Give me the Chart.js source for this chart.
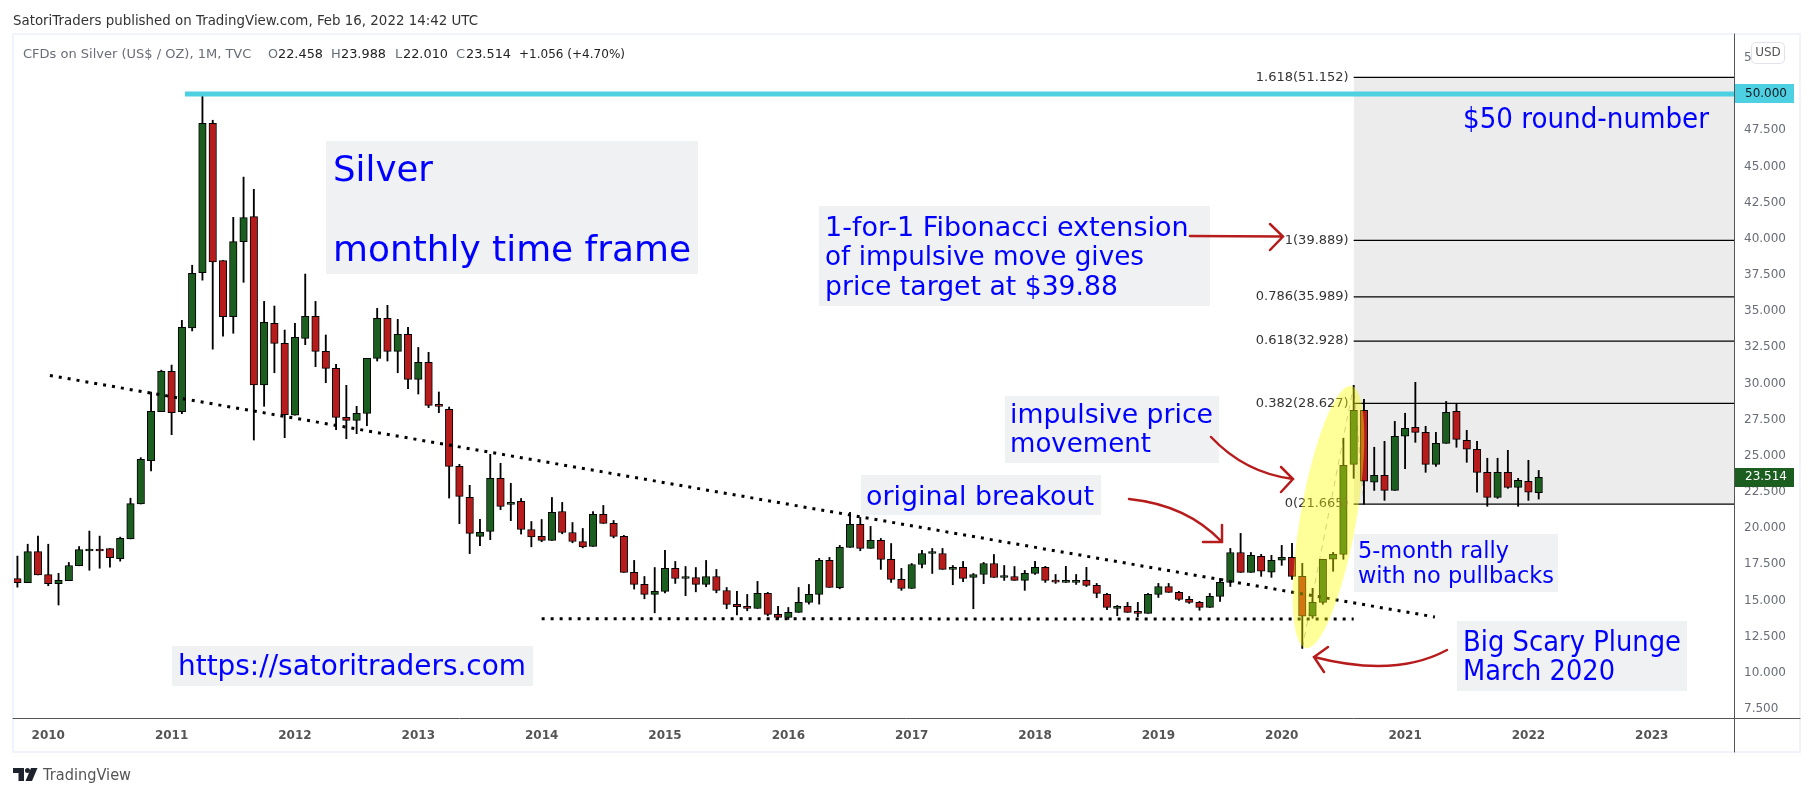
<!DOCTYPE html>
<html>
<head>
    <title>Silver monthly</title>
    <script src="https://cdn.jsdelivr.net/npm/chart.js"></script>
    <style>
      html, body { margin: 0; padding: 0; background: #fff; }
      canvas { display: block; }
    </style>
</head>
<body>
<canvas id="silverChart" width="1813" height="797"></canvas>

<script>
    // monthly candles, Oct 2009 (index 0) to Feb 2022 (index 148)
    const opens = [16.51,16.23,18.38,16.79,16.16,16.37,17.40,18.42,18.52,18.59,
      17.89,19.26,21.67,24.66,28.05,30.83,28.05,33.84,37.65,47.98,
      38.49,34.62,39.80,41.53,29.90,34.15,32.77,27.80,33.12,34.64,
      32.22,31.04,27.66,27.45,27.93,31.73,34.50,32.22,33.39,30.28,
      31.46,28.49,28.21,24.27,22.13,19.43,19.78,23.44,21.64,21.85,
      19.91,19.43,19.15,21.15,19.70,19.08,18.74,20.95,20.33,19.43,
      16.94,16.11,15.42,15.63,17.22,16.52,16.59,16.11,16.66,15.69,
      14.73,14.59,14.45,15.49,14.04,13.83,14.18,14.87,15.42,17.77,
      15.88,18.67,20.26,18.60,19.15,17.84,16.46,15.83,17.49,18.25,
      18.25,17.15,17.29,16.59,16.80,17.56,16.59,16.66,16.39,16.87,
      17.29,16.32,16.25,16.25,16.39,16.04,15.42,14.45,14.59,14.18,
      14.11,15.42,15.97,15.56,15.08,14.87,14.52,15.28,16.25,18.32,
      16.94,18.05,16.95,17.78,17.98,16.67,13.91,14.87,17.85,18.19,
      24.41,28.14,23.17,23.65,22.61,26.35,26.97,26.62,24.41,25.86,
      28.07,26.07,25.45,23.86,22.13,23.86,22.82,23.24,22.458];
    const closes = [16.23,18.38,16.76,16.16,16.39,17.42,18.52,18.52,18.42,17.96,
      19.29,21.69,24.76,28.07,30.83,27.98,33.87,37.61,47.98,38.40,
      34.62,39.80,41.46,29.90,34.22,32.77,27.84,33.19,34.64,32.22,
      31.04,27.66,27.45,27.93,31.73,34.50,32.22,33.39,30.28,31.46,
      28.49,28.42,24.27,22.20,19.64,19.71,23.44,21.51,21.78,19.91,
      19.40,19.15,21.09,19.70,19.08,18.71,20.95,20.33,19.43,16.94,
      16.11,15.42,15.63,17.22,16.52,16.59,16.11,16.66,15.69,14.73,
      14.57,14.45,15.49,14.04,13.83,14.18,14.87,15.42,17.77,15.90,
      18.67,20.26,18.60,19.15,17.84,16.46,15.83,17.49,18.25,18.30,
      17.15,17.29,16.53,16.80,17.56,16.59,16.66,16.39,16.87,17.29,
      16.39,16.27,16.32,16.39,16.04,15.49,14.52,14.59,14.18,14.11,
      15.42,15.97,15.56,15.08,14.87,14.52,15.28,16.25,18.32,16.94,
      18.12,17.02,17.78,17.98,16.67,13.91,14.87,17.85,18.19,24.34,
      28.14,23.24,23.65,22.61,26.35,26.90,26.62,24.41,25.86,28.00,
      26.14,25.45,23.86,22.13,23.86,22.82,23.30,22.48,23.514];
    const highs = [18.07,18.89,19.45,18.89,16.88,17.63,18.73,19.80,19.45,18.59,
      19.38,22.07,24.87,29.41,30.92,31.27,34.36,38.17,49.85,48.19,
      38.49,41.48,44.26,43.42,35.67,35.35,33.69,34.15,37.56,35.67,
      33.35,31.32,29.87,28.42,31.73,35.19,35.40,34.43,33.88,32.49,
      32.15,29.41,28.37,24.41,22.96,20.61,25.10,24.48,23.10,22.05,
      20.46,20.60,22.12,21.78,20.39,19.98,21.15,21.57,20.53,19.50,
      17.77,16.66,17.28,18.46,17.70,17.35,17.28,17.77,17.15,15.90,
      15.63,15.42,16.32,15.56,14.59,14.52,15.90,16.11,17.91,17.98,
      18.81,21.09,20.74,20.12,19.29,18.94,17.22,17.56,18.46,18.60,
      18.60,17.42,17.70,16.87,17.63,18.18,17.42,17.35,17.08,17.70,
      17.36,16.80,17.36,16.80,17.29,16.18,15.49,14.66,14.87,14.87,
      15.49,16.18,16.18,15.63,15.28,14.94,15.49,16.53,18.60,19.64,
      18.32,18.19,18.12,18.81,18.95,17.57,15.84,17.85,18.33,26.21,
      29.87,28.90,25.59,26.00,27.38,27.94,30.08,27.04,26.62,28.76,
      28.63,26.76,26.00,24.83,24.83,25.38,23.44,24.69,23.988];
    const lows = [15.92,16.23,16.76,16.02,14.69,16.37,17.40,17.09,17.23,17.30,
      17.72,19.26,21.67,23.96,28.05,26.46,27.91,33.63,37.14,32.37,
      33.26,33.47,36.99,26.09,28.42,30.74,26.25,27.80,32.68,31.16,
      30.05,26.80,26.18,26.53,27.08,31.55,31.55,30.74,29.64,29.27,
      28.33,27.98,22.08,20.31,18.24,18.79,19.20,21.28,20.52,19.59,
      18.71,19.06,19.15,19.61,18.99,18.64,18.74,20.33,19.33,16.94,
      15.79,15.12,14.15,15.53,16.18,15.33,15.60,15.95,15.53,14.43,
      14.01,14.29,14.45,13.94,13.69,13.69,14.18,14.75,14.75,15.90,
      15.81,18.67,18.44,18.60,17.15,16.25,15.70,15.83,17.26,16.87,
      17.15,16.09,16.30,14.43,16.16,16.59,16.39,16.39,15.70,16.80,
      16.25,16.18,16.25,16.11,15.97,15.19,14.36,13.95,14.18,13.88,
      14.11,15.21,15.56,15.01,14.80,14.32,14.52,14.94,15.97,16.94,
      16.94,16.67,16.60,17.43,16.46,11.69,13.77,14.74,17.02,17.85,
      23.44,21.65,22.61,21.92,22.61,24.11,25.93,23.86,24.27,25.86,
      25.59,24.55,22.48,21.51,22.06,22.75,21.51,21.92,22.010];

    const years = [2010,2011,2012,2013,2014,2015,2016,2017,2018,2019,2020,2021,2022,2023];
    const yearIndex = [3,15,27,39,51,63,75,87,99,111,123,135,147,159];
    const priceTicks = [7.5,10,12.5,15,17.5,20,22.5,25,27.5,30,32.5,35,37.5,40,42.5,45,47.5,50,52.5];

    const fibRatios = ['1.618','1','0.786','0.618','0.382','0'];
    const fibPrices = [51.152,39.889,35.989,32.928,28.627,21.665];
    const fibStart = 130;

    const GREEN = '#1b5e20', RED = '#b71c1c', BLUE = '#0000ff', ARROW = '#b71c1c', BOX = '#f0f1f3';
    const xMin = -0.43, xMax = 167;

    const TEXT_FONT = '"DejaVu Sans"';
    const UI_FONT = '"DejaVu Sans"';

    // text boxes: background rect, then lines of [text, x, baseline, width]
    const notes = [
      { box: [326,141,372,133], size: 36, lines: [['Silver',333,181,100],['monthly time frame',333,261,358]] },
      { box: [819,206,391,100], size: 27, lines: [['1-for-1 Fibonacci extension',825,236,365],['of impulsive move gives',825,265,319],['price target at $39.88',825,295,293]] },
      { box: [172,646,361,40], size: 28, lines: [['https://satoritraders.com',178,675,348]] },
      { box: [1005,396,214,67], size: 27, lines: [['impulsive price',1010,423,203],['movement',1010,452,141]] },
      { box: [861,475,240,40], size: 27, lines: [['original breakout',866,505,228]] },
      { box: [1354,534,204,58], size: 22.5, lines: [['5-month rally',1358,558,151],['with no pullbacks',1358,583,196]] },
      { box: [1457,621,230,70], size: 28, lines: [['Big Scary Plunge',1463,651,218],['March 2020',1463,680,152]] },
      { box: null, size: 29, lines: [['$50 round-number',1463,128,246]] }
    ];

    // arrows: start, control, tip, head arms (page pixels)
    const arrows = [
      { p: [1190,236, 1235,236, 1283,236.5], arms: [[1270,224],[1270,250]] },
      { p: [1211,437, 1245,473, 1293,479], arms: [[1281,467],[1281,492]] },
      { p: [1129,499, 1187,505, 1222,542], arms: [[1222,525],[1203,542]] },
      { p: [1447,650, 1395,678, 1314,657], arms: [[1328,647],[1324,672]] }
    ];

    // header ohlc line: [text, x, colour, width]
    const legendParts = [
      ['CFDs on Silver (US$ / OZ), 1M, TVC', 23, '#6a6d78', 236],
      ['O', 268, '#6a6d78', 10], ['22.458', 278, '#222', 45],
      ['H', 331, '#6a6d78', 10], ['23.988', 341, '#222', 45],
      ['L', 395, '#6a6d78', 8], ['22.010', 403, '#222', 45],
      ['C', 456, '#6a6d78', 10], ['23.514', 466, '#222', 45],
      ['+1.056 (+4.70%)', 519, '#222', 106]
    ];

    const fibLines = fibPrices.map(p => ({
      type: 'line', order: 8, borderColor: '#000', borderWidth: 1.2, pointRadius: 0,
      data: [{x: fibStart, y: p}, {x: xMax, y: p}]
    }));

    const drawNotes = {
      id: 'notes',
      afterDatasetsDraw(chart) {
        const c = chart.ctx, xs = chart.scales.x, ys = chart.scales.y;
        c.save();

        // fib labels, sit under the yellow ellipse
        c.font = '13px ' + UI_FONT;
        c.fillStyle = '#333';
        c.textAlign = 'right';
        c.textBaseline = 'middle';
        fibPrices.forEach((p, i) => {
          c.fillText(fibRatios[i] + '(' + p.toFixed(3) + ')', xs.getPixelForValue(fibStart) - 5, ys.getPixelForValue(p), 94);
        });

        // yellow ellipse round the impulsive move
        c.fillStyle = 'rgba(255,255,0,0.4)';
        c.beginPath();
        c.ellipse(xs.getPixelForValue(127.55), ys.getPixelForValue(20.77), 28, 133, 0.172, 0, Math.PI * 2);
        c.fill();

        // notes
        c.textAlign = 'left';
        c.textBaseline = 'alphabetic';
        notes.forEach(n => {
          if (n.box) {
            c.fillStyle = BOX;
            c.fillRect(n.box[0], n.box[1], n.box[2], n.box[3]);
          }
          c.fillStyle = BLUE;
          c.font = n.size + 'px ' + TEXT_FONT;
          n.lines.forEach(l => c.fillText(l[0], l[1], l[2], l[3]));
        });

        // arrows
        c.strokeStyle = ARROW;
        c.lineWidth = 2.5;
        c.lineCap = 'round';
        arrows.forEach(a => {
          const p = a.p;
          c.beginPath();
          c.moveTo(p[0], p[1]);
          c.quadraticCurveTo(p[2], p[3], p[4], p[5]);
          c.moveTo(a.arms[0][0], a.arms[0][1]);
          c.lineTo(p[4], p[5]);
          c.lineTo(a.arms[1][0], a.arms[1][1]);
          c.stroke();
        });

        // frame and axis extensions
        c.strokeStyle = '#f0f3fa';
        c.lineWidth = 2;
        c.strokeRect(13, 34, 1787, 718);
        c.strokeStyle = '#555';
        c.lineWidth = 1;
        c.beginPath();
        c.moveTo(13, 718.5); c.lineTo(1800, 718.5);
        c.moveTo(1734.5, 34); c.lineTo(1734.5, 752);
        c.stroke();

        // price tags
        c.textAlign = 'center';
        c.textBaseline = 'middle';
        c.font = '12px ' + UI_FONT;
        c.fillStyle = '#4dd0e1';
        c.fillRect(1735, 84, 59, 19);
        c.fillStyle = '#131722';
        c.fillText('50.000', 1766, ys.getPixelForValue(50));
        c.fillStyle = GREEN;
        c.fillRect(1735, 468, 59, 19);
        c.fillStyle = '#fff';
        c.fillText(closes[closes.length - 1].toFixed(3), 1766, ys.getPixelForValue(closes[closes.length - 1]));

        // USD badge
        c.fillStyle = '#fff';
        c.strokeStyle = '#e0e3eb';
        c.beginPath();
        c.roundRect(1751.5, 42.5, 33, 21, 4);
        c.fill();
        c.stroke();
        c.fillStyle = '#555';
        c.fillText('USD', 1768, 53);

        // header
        c.textAlign = 'left';
        c.textBaseline = 'alphabetic';
        c.fillStyle = '#333';
        c.font = '13.5px ' + UI_FONT;
        c.fillText('SatoriTraders published on TradingView.com, Feb 16, 2022 14:42 UTC', 13, 25, 465);
        c.font = '13px ' + UI_FONT;
        legendParts.forEach(s => {
          c.fillStyle = s[2];
          c.fillText(s[0], s[1], 58, s[3]);
        });

        // footer logo and name
        c.fillStyle = '#1e222d';
        c.beginPath();
        c.moveTo(13, 768); c.lineTo(24, 768); c.lineTo(24, 781); c.lineTo(18.5, 781); c.lineTo(18.5, 773); c.lineTo(13, 773);
        c.closePath();
        c.moveTo(31, 768); c.lineTo(37.5, 768); c.lineTo(32, 781); c.lineTo(25.5, 781);
        c.closePath();
        c.fill();
        c.beginPath();
        c.arc(27.5, 770.5, 2.5, 0, Math.PI * 2);
        c.fill();
        c.fillStyle = '#555';
        c.font = '15px ' + UI_FONT;
        c.textBaseline = 'middle';
        c.fillText('TradingView', 43, 776, 88);
        c.restore();
      }
    };

    new Chart(document.getElementById('silverChart').getContext('2d'), {
      type: 'bar',
      data: {
        datasets: [
          { // gray fib zone
            type: 'line', order: 9, pointRadius: 0, borderWidth: 0,
            backgroundColor: '#ececec',
            fill: { value: fibPrices[5] },
            data: [{x: fibStart, y: fibPrices[0]}, {x: xMax, y: fibPrices[0]}]
          },
          ...fibLines,
          { // fib trend helper, faint dashes
            type: 'line', order: 7, borderColor: 'rgba(120,123,134,0.55)', borderWidth: 1, borderDash: [6, 5], pointRadius: 0,
            data: [{x: 125, y: lows[125]}, {x: 130, y: highs[130]}, {x: 131, y: fibPrices[5]}]
          },
          { // wicks
            order: 6, grouped: false, barThickness: 1.2, backgroundColor: '#000',
            data: opens.map((o, i) => ({x: i, y: [lows[i], highs[i]]}))
          },
          { // bodies
            order: 5, grouped: false, barThickness: 7.5, minBarLength: 2, borderWidth: 1, borderColor: '#000', borderSkipped: false,
            backgroundColor: opens.map((o, i) => closes[i] >= o ? GREEN : RED),
            data: opens.map((o, i) => ({x: i, y: [o, closes[i]]}))
          },
          { // falling trendline
            type: 'line', order: 3, borderColor: '#000', borderWidth: 3, borderDash: [3, 6], pointRadius: 0,
            data: [{x: 3.16, y: 30.55}, {x: 137.9, y: 13.86}]
          },
          { // base
            type: 'line', order: 3, borderColor: '#000', borderWidth: 3, borderDash: [3, 6], pointRadius: 0,
            data: [{x: 51, y: 13.74}, {x: 130, y: 13.72}]
          },
          { // $50 level
            type: 'line', order: 2, borderColor: '#4dd0e1', borderWidth: 5, pointRadius: 0,
            data: [{x: 16.3, y: 50}, {x: xMax, y: 50}]
          }
        ]
      },
      options: {
        responsive: false,
        animation: false,
        devicePixelRatio: 1,
        events: [],
        layout: { padding: { left: 13, top: 34, right: 13, bottom: 45 } },
        plugins: { legend: { display: false }, tooltip: { enabled: false } },
        scales: {
          x: {
            type: 'linear', min: xMin, max: xMax, offset: false,
            grid: { display: false, drawTicks: false },
            border: { display: false },
            afterBuildTicks: s => { s.ticks = yearIndex.map(v => ({ value: v })); },
            afterFit: s => { s.height = 34; },
            ticks: {
              autoSkip: false, maxRotation: 0, padding: 11,
              color: '#555', font: { family: UI_FONT, size: 12, weight: 'bold' },
              callback: v => years[yearIndex.indexOf(v)]
            }
          },
          y: {
            position: 'right', min: 6.88, max: 54.15,
            grid: { display: false, drawTicks: false },
            border: { display: false },
            afterBuildTicks: s => { s.ticks = priceTicks.map(v => ({ value: v })); },
            afterFit: s => { s.width = 66; },
            ticks: {
              autoSkip: false, padding: 10,
              color: '#6a6d78', font: { family: UI_FONT, size: 12 },
              callback: v => v.toFixed(3)
            }
          }
        }
      },
      plugins: [drawNotes]
    });
</script>
</body>
</html>
